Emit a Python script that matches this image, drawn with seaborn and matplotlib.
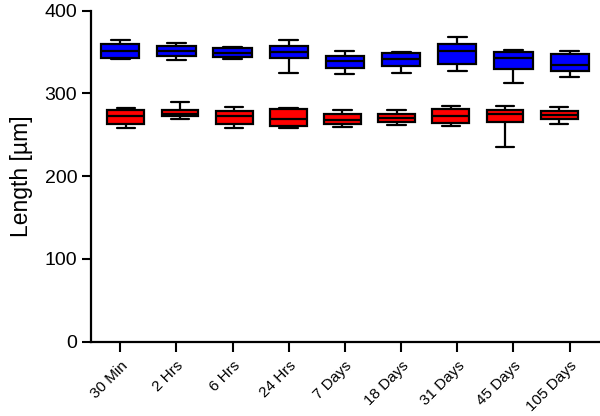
import matplotlib
matplotlib.use("Agg")
import matplotlib.pyplot as plt
import seaborn as sns
import numpy as np
import pandas as pd

# time points
times = ["30 Min", "2 Hrs", "6 Hrs", "24 Hrs", "7 Days", "18 Days", "31 Days", "45 Days", "105 Days"]

# five-number summaries per time point: min, Q1, median, Q3, max
blue_min = [342.0, 340.8, 342.0, 324.7, 323.9, 324.7, 327.1, 313.0, 319.5]
blue_q1 = [342.8, 344.9, 344.0, 343.2, 331.1, 333.2, 335.2, 329.9, 326.8]
blue_med = [351.3, 351.3, 349.2, 349.7, 339.5, 342.0, 350.9, 342.8, 334.7]
blue_q3 = [359.8, 357.7, 354.6, 357.0, 345.6, 348.9, 359.4, 350.1, 347.7]
blue_max = [365.0, 360.6, 356.5, 365.0, 351.7, 350.1, 368.6, 352.1, 351.3]

red_min = [257.9, 269.5, 258.6, 258.6, 259.5, 261.9, 260.7, 234.9, 263.1]
red_q1 = [262.7, 272.4, 262.7, 261.0, 263.6, 265.1, 263.9, 265.5, 268.8]
red_med = [273.1, 275.5, 273.1, 268.8, 268.0, 270.3, 272.7, 274.8, 274.0]
red_q3 = [280.0, 280.4, 278.8, 280.8, 275.5, 274.8, 281.6, 280.4, 278.8]
red_max = [282.8, 289.3, 283.6, 282.8, 279.6, 280.4, 284.8, 284.5, 283.6]


def summary_frame(mins, q1s, meds, q3s, maxs, positions):
    rows = []
    for pos, vals in zip(positions, zip(mins, q1s, meds, q3s, maxs)):
        for v in vals:
            rows.append({"pos": pos, "length": v})
    return pd.DataFrame(rows)


idx = np.arange(len(times))
blue_df = summary_frame(blue_min, blue_q1, blue_med, blue_q3, blue_max, idx.astype(float))
# red boxes sit on a slightly tighter spacing in the original figure
red_df = summary_frame(red_min, red_q1, red_med, red_q3, red_max, 0.1 + 0.964 * idx)

sns.set_style("ticks", {"axes.edgecolor": "black", "text.color": "black",
                        "xtick.color": "black", "ytick.color": "black",
                        "axes.labelcolor": "black"})
plt.rcParams["font.family"] = ["Liberation Sans", "DejaVu Sans"]

fig = plt.figure(figsize=(6.0, 4.16), dpi=100)
ax = fig.add_axes([0.1517, 0.1786, 0.8483, 0.7957])

for df, col in [(blue_df, "#0000ff"), (red_df, "#ff0000")]:
    sns.boxplot(data=df, x="pos", y="length", native_scale=True, whis=(0, 100),
                width=0.68, color=col, saturation=1, linecolor="black",
                linewidth=1.6, showfliers=False, ax=ax)

ax.set_xlim(-0.52, 8.54)
ax.set_ylim(0, 400)
ax.set_yticks([0, 100, 200, 300, 400])
ax.set_xticks(idx)
ax.set_xticklabels(times, rotation=45, ha="right", va="top",
                   rotation_mode="anchor", fontsize=11)
ax.tick_params(axis="y", labelsize=14, length=6.8, width=1.5, pad=3.2)
ax.tick_params(axis="x", length=7.2, width=1.5, pad=5)
ax.set_xlabel("")
ax.set_ylabel("Length [µm]", fontsize=16.5, labelpad=8)
sns.despine(ax=ax)
for s in ["left", "bottom"]:
    ax.spines[s].set_linewidth(1.6)

fig.savefig("out.png", dpi=100)
